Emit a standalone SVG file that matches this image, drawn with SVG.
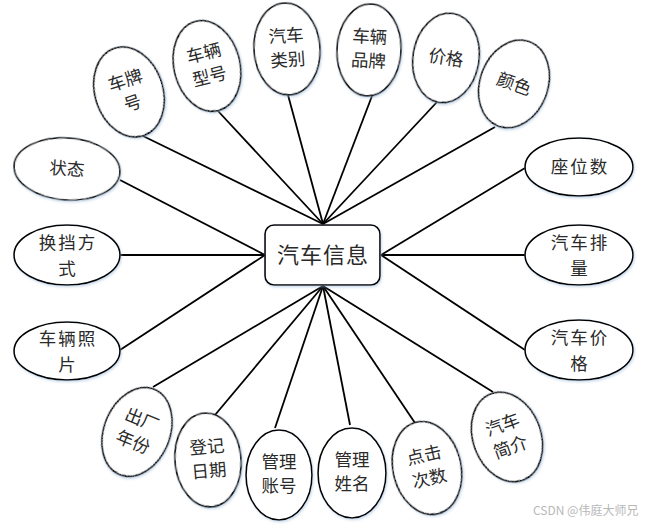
<svg xmlns="http://www.w3.org/2000/svg" width="651" height="524" viewBox="0 0 651 524">
<defs>
<filter id="sh" x="-20%" y="-20%" width="140%" height="140%">
<feDropShadow dx="1" dy="1.5" stdDeviation="1.2" flood-color="#9ab8d8" flood-opacity="0.5"/>
</filter>
</defs>
<style>
.e{fill:#fff;stroke:#000;stroke-width:1.6;filter:url(#sh)}
.t{font-family:"Noto Sans CJK SC","Noto Sans CJK JP",sans-serif;font-size:17.5px;fill:#2a2a2a;text-anchor:middle}
.w{letter-spacing:2px}
.c line{stroke:#000;stroke-width:1.8}
.m{font-family:"Noto Sans CJK SC",sans-serif;font-size:22px;fill:#2a2a2a;text-anchor:middle;letter-spacing:1px}
.wm{font-family:"Noto Sans CJK SC",sans-serif;font-size:12px;fill:#b8b8b8}
</style>
<rect width="651" height="524" fill="#fff"/>
<g class="c" id="connectors">
<line x1="143" y1="136" x2="323" y2="224"/>
<line x1="218" y1="111" x2="323" y2="224"/>
<line x1="288" y1="95" x2="323" y2="224"/>
<line x1="372" y1="96" x2="323" y2="224"/>
<line x1="437" y1="102" x2="323" y2="224"/>
<line x1="495" y1="127" x2="323" y2="224"/>
<line x1="525" y1="168" x2="381" y2="255"/>
<line x1="525" y1="255" x2="381" y2="255"/>
<line x1="525" y1="350" x2="381" y2="255"/>
<line x1="493" y1="392" x2="323" y2="286"/>
<line x1="415" y1="423" x2="323" y2="286"/>
<line x1="350" y1="425" x2="323" y2="286"/>
<line x1="275" y1="428" x2="323" y2="286"/>
<line x1="215" y1="415" x2="323" y2="286"/>
<line x1="153" y1="387" x2="323" y2="286"/>
<line x1="120" y1="350" x2="265" y2="255"/>
<line x1="120" y1="255" x2="265" y2="255"/>
<line x1="120" y1="180" x2="265" y2="255"/>
</g>
<g id="main">
<rect x="265" y="225" width="115" height="60" rx="9" fill="#fff" stroke="#000" stroke-width="1.6" filter="url(#sh)"/>
<text class="m" x="323" y="263">汽车信息</text>
</g>
<g id="n1" transform="translate(129,92) rotate(-18)">
<ellipse class="e" rx="34" ry="46"/>
<text class="t" y="-6">车牌</text><text class="t" y="18">号</text>
</g>
<g id="n2" transform="translate(207,66) rotate(-14)">
<ellipse class="e" rx="33" ry="46"/>
<text class="t" y="-7">车辆</text><text class="t" y="17">型号</text>
</g>
<g id="n3" transform="translate(287,49) rotate(-4)">
<ellipse class="e" rx="33" ry="46"/>
<text class="t" y="-7">汽车</text><text class="t" y="17">类别</text>
</g>
<g id="n4" transform="translate(369,50) rotate(3)">
<ellipse class="e" rx="32" ry="46"/>
<text class="t" y="-7">车辆</text><text class="t" y="17">品牌</text>
</g>
<g id="n5" transform="translate(446,58) rotate(9)">
<ellipse class="e" rx="33" ry="45"/>
<text class="t" y="6">价格</text>
</g>
<g id="n6" transform="translate(514,84) rotate(20)">
<ellipse class="e" rx="34" ry="45"/>
<text class="t" y="6">颜色</text>
</g>
<g id="n7" transform="translate(579,167)">
<ellipse class="e" rx="54" ry="29"/>
<text class="t w" x="1" y="6">座位数</text>
</g>
<g id="n8" transform="translate(579,255)">
<ellipse class="e" rx="54" ry="30"/>
<text class="t w" x="1" y="-6">汽车排</text><text class="t" y="20">量</text>
</g>
<g id="n9" transform="translate(579,350)">
<ellipse class="e" rx="54" ry="30"/>
<text class="t w" x="1" y="-6">汽车价</text><text class="t" y="20">格</text>
</g>
<g id="n10" transform="translate(67,169) rotate(4)">
<ellipse class="e" rx="53" ry="31"/>
<text class="t" y="6">状态</text>
</g>
<g id="n11" transform="translate(67,255)">
<ellipse class="e" rx="53" ry="30"/>
<text class="t w" x="1" y="-6">换挡方</text><text class="t" y="20">式</text>
</g>
<g id="n12" transform="translate(67,351)">
<ellipse class="e" rx="53" ry="29"/>
<text class="t w" x="1" y="-6">车辆照</text><text class="t" y="20">片</text>
</g>
<g id="n13" transform="translate(137,432) rotate(22)">
<ellipse class="e" rx="33" ry="46"/>
<text class="t" y="-7">出厂</text><text class="t" y="17">年份</text>
</g>
<g id="n14" transform="translate(208,460) rotate(-5)">
<ellipse class="e" rx="33" ry="47"/>
<text class="t" y="-7">登记</text><text class="t" y="17">日期</text>
</g>
<g id="n15" transform="translate(279,475)">
<ellipse class="e" rx="33" ry="45"/>
<text class="t" y="-7">管理</text><text class="t" y="17">账号</text>
</g>
<g id="n16" transform="translate(352,473)">
<ellipse class="e" rx="34" ry="45"/>
<text class="t" y="-7">管理</text><text class="t" y="17">姓名</text>
</g>
<g id="n17" transform="translate(427,468) rotate(-13)">
<ellipse class="e" rx="34" ry="47"/>
<text class="t" y="-7">点击</text><text class="t" y="17">次数</text>
</g>
<g id="n18" transform="translate(507,437) rotate(-20)">
<ellipse class="e" rx="34" ry="46"/>
<text class="t" y="-7">汽车</text><text class="t" y="17">简介</text>
</g>
<text class="wm" x="533" y="515">CSDN @伟庭大师兄</text>
</svg>
